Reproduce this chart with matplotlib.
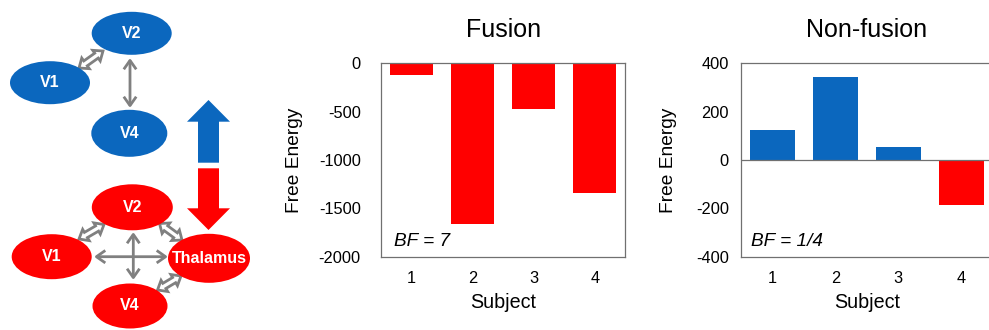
import numpy as np
import matplotlib
matplotlib.use("Agg")
import matplotlib.pyplot as plt
from matplotlib.patches import Ellipse, Polygon

plt.rcParams['font.family'] = ['Liberation Sans', 'DejaVu Sans']
plt.rcParams['axes.unicode_minus'] = False

subjects = [1, 2, 3, 4]
fusion_vals = [-125, -1665, -475, -1345]
nonfusion_vals = [125, 342, 54, -187]
fusion_yticks = [0, -500, -1000, -1500, -2000]
nonfusion_yticks = [400, 200, 0, -200, -400]

BLUE = '#0B67BE'
RED = '#FF0000'
GRAY = '#808080'
SPINE = '#707070'

W, H = 989, 330
fig = plt.figure(figsize=(W / 100, H / 100), dpi=100)

# ---------------- Diagram ----------------
ad = fig.add_axes([0, 0, 270 / W, 1])
ad.set_xlim(0, 270)
ad.set_ylim(330, 0)
ad.axis('off')


def block_double(p0, p1, sw, hw, hl):
    p0 = np.array(p0, float); p1 = np.array(p1, float)
    d = (p1 - p0) / np.linalg.norm(p1 - p0)
    n = np.array([-d[1], d[0]])
    a = p0 + d * hl
    b = p1 - d * hl
    pts = [p0, a + n * hw / 2, a + n * sw / 2, b + n * sw / 2, b + n * hw / 2, p1,
           b - n * hw / 2, b - n * sw / 2, a - n * sw / 2, a - n * hw / 2]
    return pts


def block_single(tail, tip, sw, hw, hl):
    p0 = np.array(tail, float); p1 = np.array(tip, float)
    d = (p1 - p0) / np.linalg.norm(p1 - p0)
    n = np.array([-d[1], d[0]])
    b = p1 - d * hl
    return [p0 + n * sw / 2, b + n * sw / 2, b + n * hw / 2, p1,
            b - n * hw / 2, b - n * sw / 2, p0 - n * sw / 2]


def hollow(p0, p1):
    ad.add_patch(Polygon(block_double(p0, p1, 6, 13, 8), closed=True,
                         facecolor='white', edgecolor=GRAY, lw=2.0, zorder=1,
                         joinstyle='miter'))


def solid(p0, p1):
    ad.annotate('', xy=p1, xytext=p0,
                arrowprops=dict(arrowstyle='<->,head_length=0.4,head_width=0.28',
                                color=GRAY, lw=2.0, mutation_scale=16,
                                shrinkA=0, shrinkB=0, capstyle='butt'), zorder=1)


def node(c, w, h, color, label):
    ad.add_patch(Ellipse(c, w, h, facecolor=color, edgecolor='none', zorder=2))
    ad.text(c[0], c[1], label, color='white', fontsize=11.5, fontweight='bold',
            ha='center', va='center', zorder=3)


# top (blue) network
solid((130, 58), (130, 108))
hollow((79, 68), (103, 51))
node((131.7, 33.3), 80, 43, BLUE, 'V2')
node((50, 82.7), 80, 43, BLUE, 'V1')
node((129.3, 133.3), 76, 47, BLUE, 'V4')

# big arrows
ad.add_patch(Polygon(block_single((208.5, 162.7), (208.5, 100), 21, 43, 21.7),
                     closed=True, facecolor=BLUE, edgecolor='none'))
ad.add_patch(Polygon(block_single((208.5, 168.3), (208.5, 230), 21, 43, 21.7),
                     closed=True, facecolor=RED, edgecolor='none'))

# bottom (red) network
solid((133.3, 232), (133.3, 280))
solid((94, 256.7), (168, 256.7))
hollow((79, 239), (104, 224.5))
hollow((159.5, 223.5), (182, 240))
hollow((181, 276), (157.5, 290))
node((132.3, 207.3), 81, 46, RED, 'V2')
node((51.7, 256.7), 80, 45, RED, 'V1')
node((209, 258.3), 82, 49, RED, 'Thalamus')
node((130, 306), 75, 45, RED, 'V4')

# ---------------- Bar charts ----------------
def style(ax, yticks, ylim, ypad, title, bf, ylab_x, bf_x):
    ax.set_xlim(0.5, 4.5)
    ax.set_ylim(*ylim)
    ax.set_yticks(yticks)
    ax.set_xticks(subjects)
    ax.tick_params(axis='both', length=0, labelsize=11.8, colors='black')
    ax.tick_params(axis='x', pad=10)
    ax.tick_params(axis='y', pad=ypad)
    for s in ax.spines.values():
        s.set_color(SPINE)
        s.set_linewidth(0.9)
    ax.set_title(title, fontsize=18, pad=19)
    ax.set_xlabel('Subject', fontsize=14.2)
    ax.xaxis.set_label_coords(0.5, -0.19)
    ax.set_ylabel('Free Energy', fontsize=13.8)
    ax.yaxis.set_label_coords(ylab_x, 0.5)
    ax.text(bf_x, 0.053, bf, transform=ax.transAxes, fontsize=13.7,
            style='italic', ha='left', va='baseline')


ax1 = fig.add_axes([381 / W, (330 - 256.7) / H, 244.3 / W, 193.4 / H])
ax1.bar(subjects, fusion_vals, width=0.71, color=RED, zorder=2)
style(ax1, fusion_yticks, (-2000, 0), 14.5, 'Fusion', 'BF = 7', -0.32, 0.053)

ax2 = fig.add_axes([740.7 / W, (330 - 256.7) / H, 252.3 / W, 193.4 / H])
colors2 = [BLUE if v >= 0 else RED for v in nonfusion_vals]
ax2.bar(subjects, nonfusion_vals, width=0.72, color=colors2, zorder=2)
ax2.axhline(0, color=SPINE, lw=0.9, zorder=3)
style(ax2, nonfusion_yticks, (-400, 400), 8.5, 'Non-fusion', 'BF = 1/4', -0.254, 0.041)

fig.savefig('out.png', dpi=100)
